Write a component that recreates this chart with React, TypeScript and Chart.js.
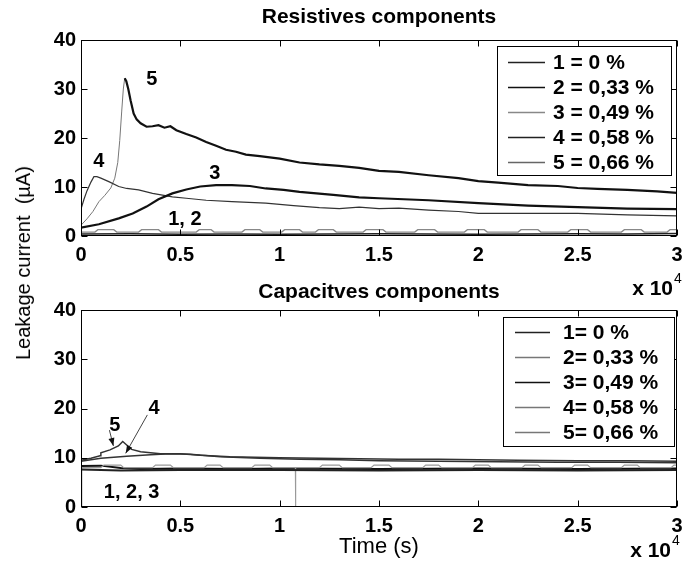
import React, { useEffect, useRef } from "react";
import { Chart, registerables } from "chart.js";
Chart.register(...registerables);

const FONT = "'Liberation Sans', Arial, Helvetica, sans-serif";

// ---------- axis ticks (time in x 10^4 s, current in µA) ----------
const X_TICKS = [0, 0.5, 1, 1.5, 2, 2.5, 3];
const Y_TICKS = [0, 10, 20, 30, 40];

// ---------- Resistive components ----------
const R1_X = [0, 0.25, 0.5, 0.75, 1.0, 1.25, 1.5, 1.75, 2.0, 2.25, 2.5, 2.75, 3.0];
const R1_Y = [0.4, 0.45, 0.35, 0.4, 0.35, 0.4, 0.45, 0.4, 0.35, 0.4, 0.45, 0.4, 0.5];

const R2_X = [0, 0.07, 0.085, 0.165, 0.18, 0.29, 0.305, 0.39, 0.405, 0.58, 0.595, 0.655, 0.67, 0.81, 0.825, 0.9, 0.915, 1.01, 1.025, 1.1, 1.115, 1.18, 1.195, 1.27, 1.285, 1.42, 1.435, 1.52, 1.535, 1.68, 1.695, 1.78, 1.795, 1.93, 1.945, 2.03, 2.045, 2.2, 2.215, 2.3, 2.315, 2.45, 2.465, 2.55, 2.565, 2.72, 2.735, 2.82, 2.835, 2.95, 2.965, 3.0];
const R2_Y = [0.8, 0.8, 1.3, 1.3, 0.8, 0.8, 1.3, 1.3, 0.8, 0.8, 1.3, 1.3, 0.8, 0.8, 1.3, 1.3, 0.8, 0.8, 1.3, 1.3, 0.8, 0.8, 1.3, 1.3, 0.8, 0.8, 1.3, 1.3, 0.8, 0.8, 1.3, 1.3, 0.8, 0.8, 1.3, 1.3, 0.8, 0.8, 1.3, 1.3, 0.8, 0.8, 1.3, 1.3, 0.8, 0.8, 1.3, 1.3, 0.8, 0.8, 1.3, 1.3];

const R3_X = [0, 0.09, 0.19, 0.26, 0.33, 0.39, 0.46, 0.53, 0.6, 0.68, 0.76, 0.85, 0.93, 1.02, 1.1, 1.27, 1.4, 1.5, 1.75, 2.0, 2.25, 2.5, 2.75, 3.0];
const R3_Y = [1.7, 2.4, 3.6, 4.6, 6.0, 7.5, 8.7, 9.5, 10.1, 10.4, 10.4, 10.2, 9.7, 9.4, 9.0, 8.4, 7.9, 7.7, 7.3, 6.7, 6.2, 5.9, 5.6, 5.5];

const R4_X = [0, 0.015, 0.03, 0.05, 0.065, 0.08, 0.1, 0.14, 0.19, 0.23, 0.29, 0.36, 0.46, 0.53, 0.63, 0.76, 0.93, 1.07, 1.2, 1.3, 1.4, 1.5, 1.6, 1.75, 1.9, 2.0, 2.25, 2.5, 2.75, 3.0];
const R4_Y = [5.5, 7.5, 9.2, 11.0, 12.1, 12.1, 11.8, 11.1, 10.1, 9.7, 9.4, 8.7, 8.0, 7.7, 7.3, 7.0, 6.7, 6.2, 5.8, 5.6, 5.9, 5.6, 5.7, 5.3, 5.0, 4.6, 4.6, 4.6, 4.3, 4.1];

const R5_X = [0, 0.03, 0.06, 0.09, 0.12, 0.15, 0.17, 0.185, 0.195, 0.205, 0.213, 0.22, 0.228, 0.238, 0.25, 0.265, 0.28, 0.3, 0.33, 0.36, 0.39, 0.42, 0.45, 0.48, 0.53, 0.58, 0.63, 0.68, 0.73, 0.78, 0.83, 0.9, 1.0, 1.1, 1.2, 1.3, 1.4, 1.5, 1.6, 1.75, 1.9, 2.0, 2.1, 2.25, 2.4, 2.5, 2.6, 2.75, 2.9, 3.0];
const R5_Y = [2.2, 3.5, 5.0, 7.0, 8.3, 9.8, 11.8, 15.0, 19.5, 25.5, 30.0, 32.2, 31.6, 30.0, 27.6, 25.0, 23.8, 23.0, 22.3, 22.4, 22.6, 22.1, 22.4, 21.6, 20.8, 20.1, 19.2, 18.4, 17.6, 17.2, 16.6, 16.3, 15.8, 15.0, 14.6, 14.3, 13.9, 13.3, 13.1, 12.4, 11.8, 11.2, 10.9, 10.4, 10.2, 9.8, 9.6, 9.4, 9.1, 8.8];

// ---------- Capacitive components ----------
const C1_X = [0, 0.2, 0.5, 1.0, 1.5, 2.0, 2.5, 3.0];
const C1_Y = [7.6, 7.4, 7.5, 7.5, 7.4, 7.5, 7.4, 7.5];

const C2_X = [0, 0.004, 0.1, 0.115, 0.2, 0.215, 0.36, 0.375, 0.45, 0.465, 0.62, 0.635, 0.7, 0.715, 0.86, 0.875, 0.95, 0.965, 1.079, 1.08, 1.081, 1.2, 1.215, 1.3, 1.315, 1.46, 1.475, 1.55, 1.565, 1.72, 1.735, 1.8, 1.815, 1.97, 1.985, 2.05, 2.065, 2.22, 2.235, 2.3, 2.315, 2.47, 2.485, 2.55, 2.565, 2.72, 2.735, 2.8, 2.815, 2.97, 2.985, 3.0];
const C2_Y = [0, 8.0, 8.0, 8.5, 8.5, 8.0, 8.0, 8.5, 8.5, 8.0, 8.0, 8.5, 8.5, 8.0, 8.0, 8.5, 8.5, 8.0, 8.0, 0, 8.0, 8.0, 8.5, 8.5, 8.0, 8.0, 8.5, 8.5, 8.0, 8.0, 8.5, 8.5, 8.0, 8.0, 8.5, 8.5, 8.0, 8.0, 8.5, 8.5, 8.0, 8.0, 8.5, 8.5, 8.0, 8.0, 8.5, 8.5, 8.0, 8.0, 8.5, 8.5];

const C3_X = [0, 0.1, 0.2, 0.3, 0.5, 0.8, 1.0, 1.5, 2.0, 2.5, 3.0];
const C3_Y = [8.3, 8.4, 7.9, 7.7, 7.8, 7.7, 7.8, 7.7, 7.8, 7.7, 7.8];

const C4_X = [0, 0.1, 0.23, 0.35, 0.45, 0.55, 0.7, 0.9, 1.1, 1.3, 1.5, 1.8, 2.1, 2.4, 2.7, 3.0];
const C4_Y = [9.3, 9.9, 10.3, 10.6, 10.8, 10.7, 10.2, 9.9, 9.7, 9.6, 9.4, 9.3, 9.2, 9.1, 9.1, 9.0];

const C5_X = [0, 0.05, 0.096, 0.1, 0.146, 0.188, 0.21, 0.23, 0.255, 0.3, 0.35, 0.4, 0.5, 0.6, 0.75, 1.0, 1.2, 1.4, 1.6, 1.8, 2.0, 2.2, 2.5, 2.75, 3.0];
const C5_Y = [9.5, 9.9, 10.4, 11.0, 11.6, 12.4, 13.3, 12.6, 11.7, 11.2, 11.0, 10.8, 10.8, 10.5, 10.2, 10.0, 9.9, 9.8, 9.7, 9.7, 9.6, 9.5, 9.4, 9.4, 9.3];

// ---------- legends ----------
const LEGEND_TOP = ["1 = 0 %", "2 = 0,33 %", "3 = 0,49 %", "4 = 0,58 %", "5 = 0,66 %"];
const LEGEND_TOP_COLORS = ["#222", "#111", "#888", "#222", "#666"];
const LEGEND_BOT = ["1= 0 %", "2= 0,33 %", "3= 0,49 %", "4= 0,58 %", "5= 0,66 %"];
const LEGEND_BOT_COLORS = ["#222", "#777", "#111", "#777", "#777"];

// ---------- curve labels (text, x, y) and arrows (x0, y0, x1, y1) ----------
const NOTES_TOP = [
  { text: "5", x: 0.356, y: 31.9 },
  { text: "4", x: 0.09, y: 15.2 },
  { text: "3", x: 0.673, y: 12.8 },
  { text: "1, 2", x: 0.523, y: 3.3 },
];
const NOTES_BOT = [
  { text: "5", x: 0.17, y: 16.5 },
  { text: "4", x: 0.368, y: 20.0 },
  { text: "1, 2, 3", x: 0.255, y: 2.9 },
];
const ARROWS_BOT = [
  { x0: 0.143, y0: 15.6, x1: 0.163, y1: 12.4 },
  { x0: 0.334, y0: 18.7, x1: 0.225, y1: 10.9 },
];

const pts = (xs: number[], ys: number[]) => xs.map((x, i) => ({ x, y: ys[i] }));

function line(label: string, xs: number[], ys: number[], color: string, width: number, extra: any = {}) {
  return {
    label,
    data: pts(xs, ys),
    borderColor: color,
    borderWidth: width,
    pointRadius: 0,
    tension: 0,
    fill: false,
    ...extra,
  };
}

function drawArrow(ctx: CanvasRenderingContext2D, x0: number, y0: number, x1: number, y1: number) {
  ctx.beginPath();
  ctx.moveTo(x0, y0);
  ctx.lineTo(x1, y1);
  ctx.stroke();
  const a = Math.atan2(y1 - y0, x1 - x0);
  const L = 8, W = 3;
  ctx.beginPath();
  ctx.moveTo(x1, y1);
  ctx.lineTo(x1 - L * Math.cos(a) + W * Math.sin(a), y1 - L * Math.sin(a) - W * Math.cos(a));
  ctx.lineTo(x1 - L * Math.cos(a) - W * Math.sin(a), y1 - L * Math.sin(a) + W * Math.cos(a));
  ctx.closePath();
  ctx.fill();
}

function overlay(id: string, p: any) {
  return {
    id,
    afterDatasetsDraw(chart: any) {
      const { ctx, chartArea: a, scales } = chart;
      const xs = scales.x, ys = scales.y;
      ctx.save();
      // box
      const L = Math.round(a.left) + 0.5, R = Math.round(a.right) - 0.5;
      const T = Math.round(a.top) + 0.5, B = Math.round(a.bottom) - 0.5;
      ctx.strokeStyle = "#000";
      ctx.lineWidth = 1;
      ctx.strokeRect(L, T, R - L, B - T);
      // inward ticks
      ctx.beginPath();
      for (const v of X_TICKS) {
        const px = Math.round(xs.getPixelForValue(v)) + 0.5;
        ctx.moveTo(px, B); ctx.lineTo(px, B - 6);
        ctx.moveTo(px, T); ctx.lineTo(px, T + 6);
      }
      for (const v of Y_TICKS) {
        const py = Math.round(ys.getPixelForValue(v)) + 0.5;
        ctx.moveTo(L, py); ctx.lineTo(L + 6, py);
        ctx.moveTo(R, py); ctx.lineTo(R - 6, py);
      }
      ctx.stroke();
      // curve labels
      ctx.fillStyle = "#000";
      ctx.font = `bold 20px ${FONT}`;
      ctx.textAlign = "center";
      ctx.textBaseline = "middle";
      for (const n of p.notes) {
        ctx.fillText(n.text, xs.getPixelForValue(n.x), ys.getPixelForValue(n.y));
      }
      ctx.strokeStyle = "#444";
      ctx.fillStyle = "#111";
      ctx.lineWidth = 1;
      for (const ar of p.arrows) {
        drawArrow(ctx, xs.getPixelForValue(ar.x0), ys.getPixelForValue(ar.y0), xs.getPixelForValue(ar.x1), ys.getPixelForValue(ar.y1));
      }
      // legend
      const lg = p.legend;
      ctx.fillStyle = "#fff";
      ctx.fillRect(lg.x, lg.y, lg.w, lg.h);
      ctx.strokeStyle = "#000";
      ctx.lineWidth = 1;
      ctx.strokeRect(lg.x + 0.5, lg.y + 0.5, lg.w, lg.h);
      ctx.font = `bold 21px ${FONT}`;
      ctx.textAlign = "left";
      ctx.textBaseline = "middle";
      p.labels.forEach((t: string, i: number) => {
        const yy = lg.y + lg.row0 + i * lg.step;
        ctx.strokeStyle = p.colors[i];
        ctx.lineWidth = 1.5;
        ctx.beginPath();
        ctx.moveTo(lg.l0, yy + 0.5);
        ctx.lineTo(lg.l1, yy + 0.5);
        ctx.stroke();
        ctx.fillStyle = "#000";
        ctx.fillText(t, lg.tx, yy + 1);
      });
      ctx.restore();
    },
    afterDraw(chart: any) {
      const ctx = chart.ctx;
      ctx.save();
      ctx.fillStyle = "#000";
      ctx.textBaseline = "alphabetic";
      ctx.textAlign = "right";
      ctx.font = `bold 21px ${FONT}`;
      ctx.fillText("x 10", p.expX, p.expY);
      ctx.textAlign = "left";
      ctx.font = `14px ${FONT}`;
      ctx.fillText("4", p.expX + 1, p.expY - 12);
      ctx.restore();
    },
  };
}

function makeConfig(p: any): any {
  const tickFont = { family: FONT, size: 20, weight: "bold" };
  return {
    type: "line",
    data: { datasets: p.datasets },
    plugins: [overlay(p.id, p)],
    options: {
      animation: false,
      responsive: false,
      devicePixelRatio: 1,
      events: [],
      layout: { padding: { left: 0, right: 14, top: 0, bottom: 0 } },
      plugins: {
        legend: { display: false },
        tooltip: { enabled: false },
        title: {
          display: true,
          text: p.title,
          fullSize: false,
          color: "#000",
          font: { family: FONT, size: 21, weight: "bold", lineHeight: 1.2 },
          padding: { top: p.titleTop, bottom: 40 - 25.2 - p.titleTop },
        },
      },
      scales: {
        x: {
          type: "linear",
          min: 0,
          max: 3,
          afterBuildTicks: (s: any) => { s.ticks = X_TICKS.map((v) => ({ value: v })); },
          ticks: { font: tickFont, color: "#000", padding: 7, maxRotation: 0, autoSkip: false, callback: (v: any) => String(v) },
          grid: { display: false, drawTicks: false },
          border: { display: false },
          title: p.xTitle
            ? { display: true, text: p.xTitle, color: "#000", font: { family: FONT, size: 22, lineHeight: 1.2 }, padding: { top: 0, bottom: 6 } }
            : { display: false },
          afterFit: (s: any) => { s.height = p.xHeight; },
        },
        y: {
          type: "linear",
          min: 0,
          max: 40,
          afterBuildTicks: (s: any) => { s.ticks = Y_TICKS.map((v) => ({ value: v })); },
          ticks: { font: tickFont, color: "#000", padding: 5 },
          grid: { display: false, drawTicks: false },
          border: { display: false },
          afterFit: (s: any) => { s.width = 81; },
        },
      },
    },
  };
}

export default function App() {
  const topRef = useRef<HTMLCanvasElement>(null);
  const botRef = useRef<HTMLCanvasElement>(null);

  useEffect(() => {
    const thin = (ctx: any) => ctx.p0.parsed.x < 0.22;
    const top = new Chart(topRef.current as HTMLCanvasElement, makeConfig({
      id: "ovTop",
      title: "Resistives components",
      titleTop: 5,
      xHeight: 64,
      datasets: [
        line("1 = 0 %", R1_X, R1_Y, "#222", 1.5),
        line("2 = 0,33 %", R2_X, R2_Y, "#888", 1.3),
        line("3 = 0,49 %", R3_X, R3_Y, "#111", 2.2),
        line("4 = 0,58 %", R4_X, R4_Y, "#333", 1.2),
        line("5 = 0,66 %", R5_X, R5_Y, "#111", 2.2, {
          segment: {
            borderWidth: (c: any) => (thin(c) ? 1 : 2.2),
            borderColor: (c: any) => (thin(c) ? "#777" : "#111"),
          },
        }),
      ],
      notes: NOTES_TOP,
      arrows: [],
      labels: LEGEND_TOP,
      colors: LEGEND_TOP_COLORS,
      legend: { x: 497, y: 46, w: 174, h: 129, l0: 508, l1: 545, tx: 553, row0: 16, step: 25 },
      expX: 673,
      expY: 295,
    }));
    const bot = new Chart(botRef.current as HTMLCanvasElement, makeConfig({
      id: "ovBot",
      title: "Capacitves components",
      titleTop: 10,
      xHeight: 59,
      xTitle: "Time (s)",
      datasets: [
        line("1= 0 %", C1_X, C1_Y, "#222", 2),
        line("2= 0,33 %", C2_X, C2_Y, "#999", 1.1),
        line("3= 0,49 %", C3_X, C3_Y, "#111", 2),
        line("4= 0,58 %", C4_X, C4_Y, "#333", 1.5),
        line("5= 0,66 %", C5_X, C5_Y, "#333", 1.5),
      ],
      notes: NOTES_BOT,
      arrows: ARROWS_BOT,
      labels: LEGEND_BOT,
      colors: LEGEND_BOT_COLORS,
      legend: { x: 503, y: 47, w: 171, h: 129, l0: 515, l1: 550, tx: 563, row0: 15, step: 25 },
      expX: 671,
      expY: 287,
    }));
    return () => {
      top.destroy();
      bot.destroy();
    };
  }, []);

  return (
    <div style={{ position: "absolute", left: 0, top: 0, width: 691, height: 566, background: "#fff", overflow: "hidden" }}>
      <canvas ref={topRef} width={691} height={300} style={{ position: "absolute", left: 0, top: 0, width: 691, height: 300 }} />
      <canvas ref={botRef} width={691} height={296} style={{ position: "absolute", left: 0, top: 270, width: 691, height: 296 }} />
      <div
        style={{
          position: "absolute",
          left: 23,
          top: 263,
          transform: "translate(-50%, -50%) rotate(-90deg)",
          font: `20px ${FONT}`,
          whiteSpace: "pre",
          color: "#000",
          lineHeight: "24px",
        }}
      >
        Leakage current  (µA)
      </div>
    </div>
  );
}
